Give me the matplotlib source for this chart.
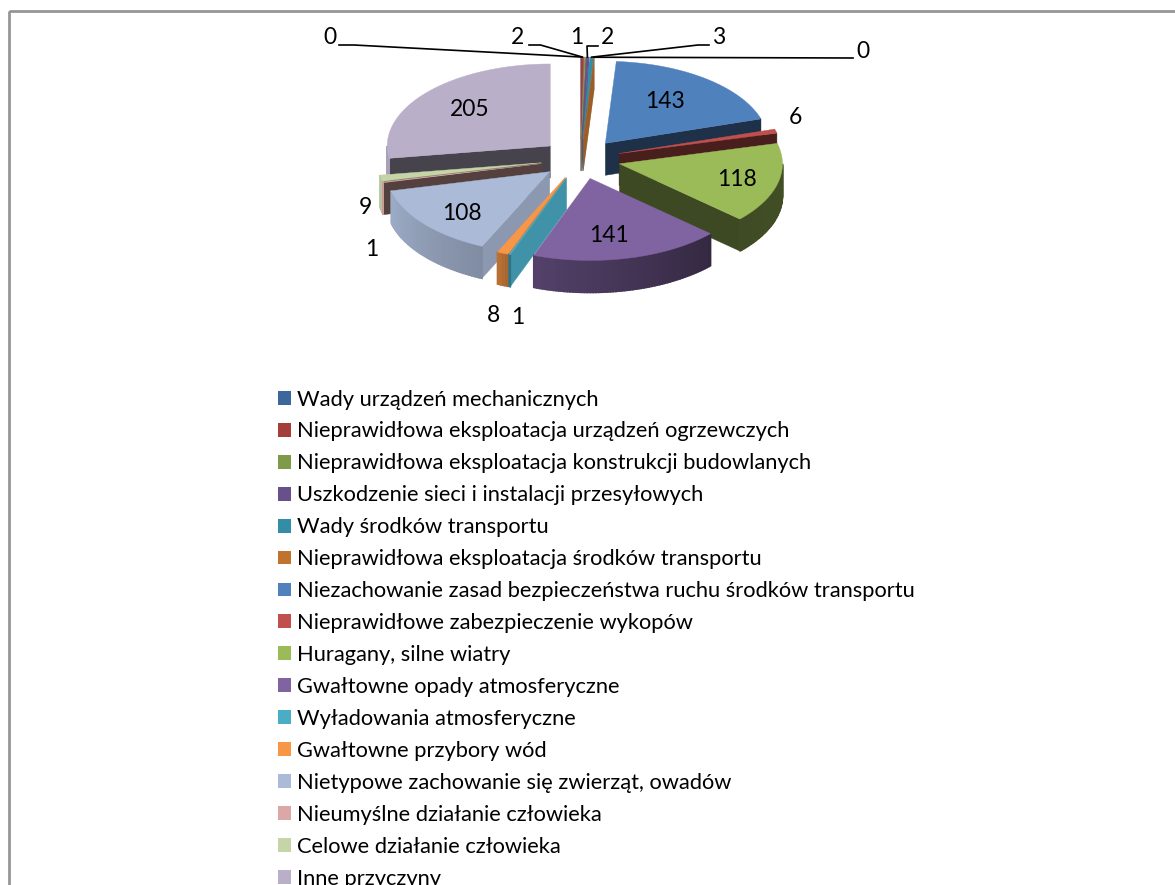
import numpy as np
import matplotlib
matplotlib.use('Agg')
import matplotlib.pyplot as plt
from matplotlib.patches import Patch, Rectangle

plt.rcParams['font.family'] = ['Lato', 'DejaVu Sans']

categories = [
    'Wady urządzeń mechanicznych',
    'Nieprawidłowa eksploatacja urządzeń ogrzewczych',
    'Nieprawidłowa eksploatacja konstrukcji budowlanych',
    'Uszkodzenie sieci i instalacji przesyłowych',
    'Wady środków transportu',
    'Nieprawidłowa eksploatacja środków transportu',
    'Niezachowanie zasad bezpieczeństwa ruchu środków transportu',
    'Nieprawidłowe zabezpieczenie wykopów',
    'Huragany, silne wiatry',
    'Gwałtowne opady atmosferyczne',
    'Wyładowania atmosferyczne',
    'Gwałtowne przybory wód',
    'Nietypowe zachowanie się zwierząt, owadów',
    'Nieumyślne działanie człowieka',
    'Celowe działanie człowieka',
    'Inne przyczyny',
]
values = [0, 2, 1, 2, 3, 0, 143, 6, 118, 141, 1, 8, 108, 1, 9, 205]

colors = ['#3B679C', '#A33E3B', '#7F9A48', '#68508A', '#348DA6', '#C0722F',
          '#4F81BD', '#C0504D', '#9BBB59', '#8064A2', '#4BACC6', '#F79646',
          '#AABAD7', '#DCA8A7', '#C5D5A7', '#B9AFC9']

# uklad kola w pikselach rysunku
cx, cy = 580.6, 159
rx, ry = 163, 82
ex, ey = 40, 20
depth = 32

# srodki etykiet
label_xy = [(330, 38), (517, 38), (577, 38), (608, 38), (719, 38), (863, 52),
            (665, 102), (795, 118), (737, 180), (609, 235), (518, 318),
            (493, 316), (462, 214), (372, 249), (365, 207), (470, 110)]
# punkty zalamania linii odniesienia, dla szesciu pierwszych etykiet
leader_xy = [[(339, 45), (354, 45)], [(529, 45), (540.5, 45)], None,
             [(598, 46), (587, 46)], [(709, 45), (698, 45)], [(853, 58)]]


def shaded(color, f):
    rgb = np.array(matplotlib.colors.to_rgb(color))
    return tuple(rgb * f)


def outer_shade(t):
    return np.interp(t, [90, 132, 200, 204, 256, 360], [.43, .4, .65, .75, .92, .92])


def start_shade(t):
    return np.interp(t, [180, 200, 215, 255, 360], [.85, .85, .75, .38, .38])


def end_shade(t):
    return np.interp(t, [0, 10, 60, 180], [.95, .6, .38, .4])


fig = plt.figure(figsize=(11.75, 8.85), dpi=100)
ax = fig.add_axes([0, 0, 1, 1])
ax.set_xlim(0, 1175)
ax.set_ylim(885, 0)
ax.axis('off')

ax.add_patch(Rectangle((9, 10.5), 1300, 1000, fill=False, edgecolor='#969696', lw=2))

total = sum(values)
edges = np.cumsum([0] + values) / total * 360
mids = (edges[:-1] + edges[1:]) / 2

apex = []
for m in mids:
    r = np.radians(m)
    apex.append((cx + ex * np.sin(r), cy - ey * np.cos(r)))


def rim(i, t):
    r = np.radians(t)
    return apex[i][0] + rx * np.sin(r), apex[i][1] - ry * np.cos(r)


def wall(p, q, color, z, lw=0.3):
    xs = [p[0], q[0], q[0], p[0]]
    ys = [p[1], q[1], q[1] + depth, p[1] + depth]
    ax.fill(xs, ys, color=color, lw=lw, zorder=z)


# od tylu do przodu
order = sorted(range(len(values)), key=lambda i: apex[i][1])
for z, i in enumerate(order):
    z = z + 2
    t0, t1 = edges[i], edges[i + 1]
    if t0 >= 180:
        wall(apex[i], rim(i, t0), shaded(colors[i], start_shade(t0)), z)
    if t1 <= 180:
        wall(apex[i], rim(i, t1), shaded(colors[i], end_shade(t1)), z)
    lo, hi = max(t0, 90), min(t1, 270)
    if hi > lo:
        steps = np.linspace(lo, hi, max(int(hi - lo), 1) + 1)
        for a, b in zip(steps[:-1], steps[1:]):
            wall(rim(i, a), rim(i, b), shaded(colors[i], outer_shade((a + b) / 2)), z, lw=1.2)
    arc = [rim(i, t) for t in np.linspace(t0, t1, 60)]
    pts = [apex[i]] + arc
    ax.fill([p[0] for p in pts], [p[1] for p in pts], color=colors[i], lw=0.3, zorder=z)

for i, (v, xy) in enumerate(zip(values, label_xy)):
    ax.text(xy[0], xy[1], str(v), fontsize=16.5, ha='center', va='center', color='black', zorder=50)

for i, pts in enumerate(leader_xy):
    if pts is None:
        continue
    end = rim(i, mids[i])
    line = pts + [end]
    ax.plot([p[0] for p in line], [p[1] for p in line], color='black', lw=1.2, zorder=49)

handles = [Patch(facecolor=c, edgecolor='none') for c in colors]
leg = fig.legend(handles, categories, loc='upper left', bbox_to_anchor=(278 / 1175, 1 - 389.5 / 885),
                 frameon=False, fontsize=15.75, borderpad=0, borderaxespad=0,
                 handlelength=0.6, handleheight=0.6, handletextpad=0.27, labelspacing=0.546)

fig.savefig('out.png', dpi=100)
